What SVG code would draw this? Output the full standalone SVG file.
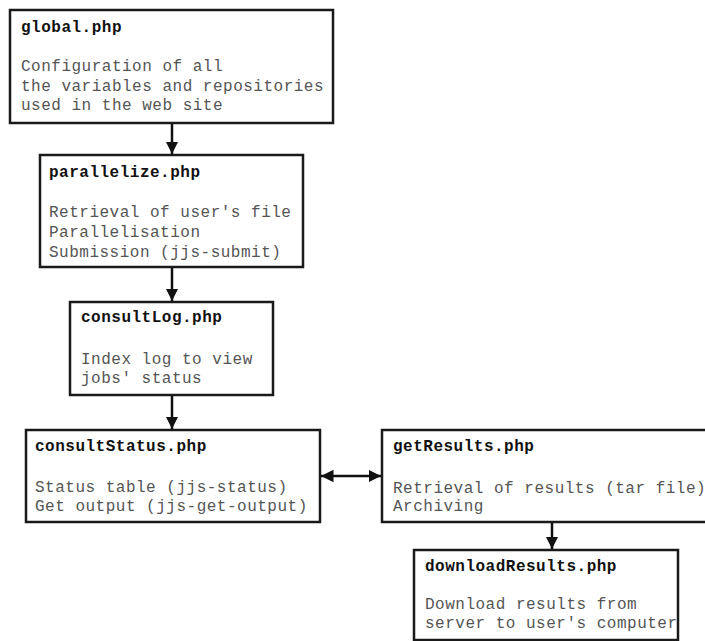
<svg xmlns="http://www.w3.org/2000/svg" width="705" height="641" viewBox="0 0 705 641">
<defs>
<marker id="arr" viewBox="0 0 10 10" refX="10" refY="5" markerWidth="5" markerHeight="5" orient="auto-start-reverse" markerUnits="strokeWidth">
<path d="M0,0 L10,5 L0,10 z" fill="#111"/>
</marker>
<style>
.box{fill:#fff;stroke:#1a1a1a;stroke-width:2.5}
.t{font-family:"Liberation Mono","Courier New",monospace;font-size:16px;letter-spacing:0.5px;font-weight:bold;fill:#111}
.b{font-family:"Liberation Mono","Courier New",monospace;font-size:16px;letter-spacing:0.5px;fill:#555}
.c{stroke:#111;stroke-width:2.5;fill:none}
</style>
</defs>
<rect width="705" height="641" fill="#fff"/>
<g id="connectors">
<line class="c" x1="172" y1="123" x2="172" y2="154" marker-end="url(#arr)"/>
<line class="c" x1="172" y1="267" x2="172" y2="301" marker-end="url(#arr)"/>
<line class="c" x1="172" y1="395" x2="172" y2="429" marker-end="url(#arr)"/>
<line class="c" x1="321" y1="476" x2="381" y2="476" marker-start="url(#arr)" marker-end="url(#arr)"/>
<line class="c" x1="552" y1="522" x2="552" y2="549" marker-end="url(#arr)"/>
</g>
<g id="global">
<rect class="box" x="10" y="10" width="323" height="113"/>
<text class="t" x="21" y="32">global.php</text>
<text class="b" x="21" y="71">Configuration of all</text>
<text class="b" x="21" y="91">the variables and repositories</text>
<text class="b" x="21" y="110">used in the web site</text>
</g>
<g id="parallelize">
<rect class="box" x="40" y="155" width="263" height="112"/>
<text class="t" x="49" y="177">parallelize.php</text>
<text class="b" x="49" y="217">Retrieval of user's file</text>
<text class="b" x="49" y="237">Parallelisation</text>
<text class="b" x="49" y="257">Submission (jjs-submit)</text>
</g>
<g id="consultLog">
<rect class="box" x="70" y="302" width="203" height="93"/>
<text class="t" x="81" y="322">consultLog.php</text>
<text class="b" x="81" y="364">Index log to view</text>
<text class="b" x="81" y="383">jobs' status</text>
</g>
<g id="consultStatus">
<rect class="box" x="26" y="430" width="294" height="92"/>
<text class="t" x="35" y="451">consultStatus.php</text>
<text class="b" x="35" y="492">Status table (jjs-status)</text>
<text class="b" x="35" y="511">Get output (jjs-get-output)</text>
</g>
<g id="getResults">
<rect class="box" x="382" y="430" width="340" height="92"/>
<text class="t" x="393" y="451">getResults.php</text>
<text class="b" x="393" y="493">Retrieval of results (tar file)</text>
<text class="b" x="393" y="511">Archiving</text>
</g>
<g id="downloadResults">
<rect class="box" x="414" y="550" width="264" height="90"/>
<text class="t" x="425" y="571">downloadResults.php</text>
<text class="b" x="425" y="609">Download results from</text>
<text class="b" x="425" y="628">server to user's computer</text>
</g>
</svg>
